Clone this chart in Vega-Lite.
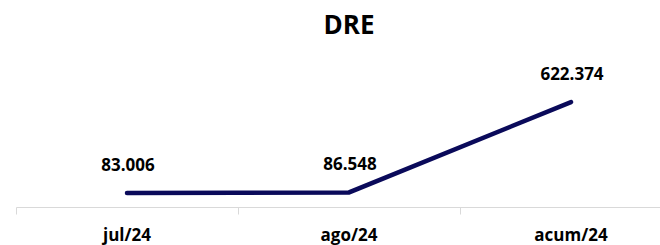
{
  "$schema": "https://vega.github.io/schema/vega-lite/v6.json",
  "autosize": {"type": "none"},
  "width": 644,
  "height": 118,
  "padding": {"left": 16, "top": 89, "right": 0, "bottom": 38},
  "background": "white",
  "config": {
    "view": {"stroke": null},
    "font": "Open Sans",
    "locale": {"number": {"decimal": ",", "thousands": ".", "grouping": [3], "currency": ["R$", ""]}}
  },
  "title": {
    "text": "DRE",
    "fontSize": 26,
    "fontWeight": "bold",
    "font": "Open Sans",
    "color": "#000000",
    "anchor": "middle",
    "frame": "group",
    "baseline": "alphabetic",
    "offset": 6,
    "dx": 11
  },
  "data": {
    "values": [
      {"periodo": "jul/24", "valor": 83006},
      {"periodo": "ago/24", "valor": 86548},
      {"periodo": "acum/24", "valor": 622374}
    ]
  },
  "encoding": {
    "x": {
      "field": "periodo",
      "type": "nominal",
      "sort": ["jul/24", "ago/24", "acum/24"],
      "scale": {"type": "band", "range": [0, 666], "paddingInner": 0, "paddingOuter": 0},
      "axis": {
        "title": null,
        "labelAngle": 0,
        "labelFontSize": 17,
        "labelFontWeight": "bold",
        "labelColor": "#000000",
        "labelFont": "Open Sans",
        "labelPadding": 13,
        "domainColor": "#d9d9d9",
        "domainWidth": 1,
        "tickColor": "#d9d9d9",
        "tickSize": 7,
        "tickWidth": 1,
        "bandPosition": 0
      }
    },
    "y": {
      "field": "valor",
      "type": "quantitative",
      "scale": {"domain": [0, 700000]},
      "axis": null
    }
  },
  "layer": [
    {
      "mark": {"type": "line", "color": "#0a0a5a", "strokeWidth": 4.5, "strokeCap": "round"}
    },
    {
      "mark": {"type": "text", "fontSize": 17, "fontWeight": "bold", "font": "Open Sans", "color": "#000000", "baseline": "middle", "dy": -27, "dx": 1},
      "encoding": {
        "text": {"field": "valor", "type": "quantitative", "format": ",d"}
      }
    }
  ]
}
